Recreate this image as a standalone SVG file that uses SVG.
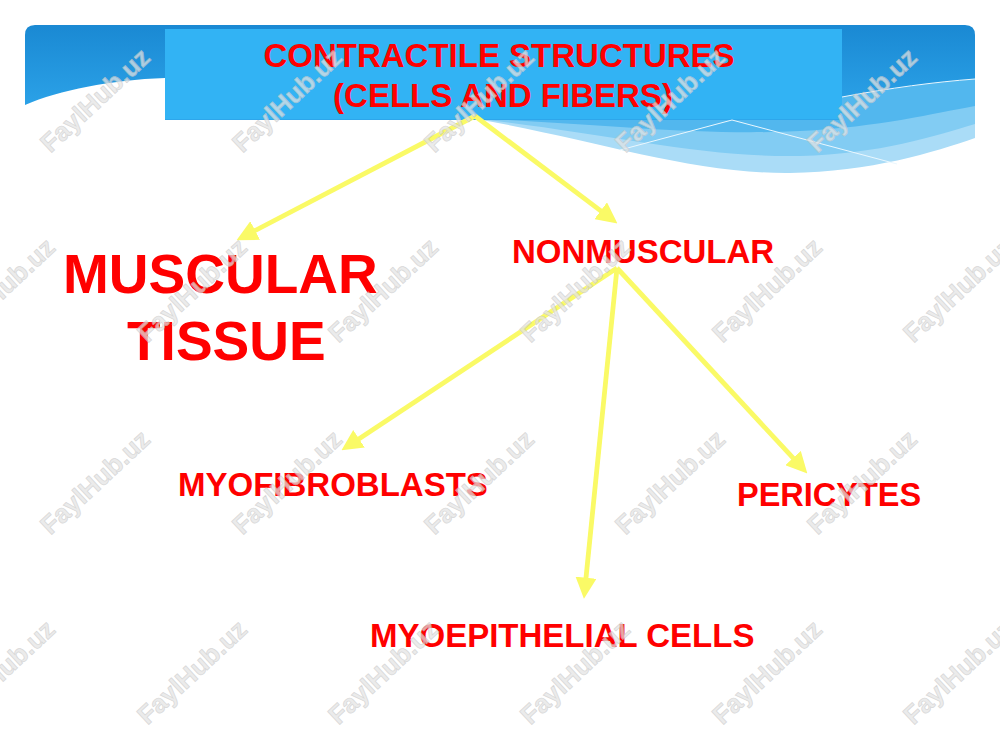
<svg xmlns="http://www.w3.org/2000/svg" width="1000" height="750" viewBox="0 0 1000 750">
<defs>
<linearGradient id="gTop" x1="0" y1="0" x2="0" y2="1">
<stop offset="0" stop-color="#1a89d3"/>
<stop offset="1" stop-color="#2ea6eb"/>
</linearGradient>
<marker id="ah" viewBox="0 0 10 10" markerUnits="userSpaceOnUse" markerWidth="21" markerHeight="21" refX="4" refY="5" orient="auto">
<path d="M0,0 L10,5 L0,10 z" fill="#fafa66"/>
</marker>
<style>
.lbl{font-family:"Liberation Sans",Arial,sans-serif;font-weight:bold;fill:#ff0000;}
.conn{stroke:#fafa66;stroke-width:4.8;fill:none;marker-end:url(#ah);}
.wm{font-family:"Liberation Sans",Arial,sans-serif;font-weight:bold;font-size:26px;fill:#e4e4e4;stroke:#c8c8c8;stroke-width:0.7;opacity:0.72;text-anchor:middle;}
.wl{stroke:#eaf7fe;stroke-width:1;fill:none;}
</style>
</defs>
<rect x="0" y="0" width="1000" height="750" fill="#ffffff"/>
<g id="header-background">
<path d="M470,118 C590,138 690,174 790,173 C870,172 935,152 975,138 L975,70 L470,70 Z" fill="#aadcf7"/>
<path d="M470,118 C600,132 700,158 800,156 C880,154 935,136 975,124 L975,70 L470,70 Z" fill="#82ccf3"/>
<path d="M470,118 C600,124 700,136 800,131 C880,127 935,113 975,106 L975,70 L470,70 Z" fill="#52b7ee"/>
<path d="M25,105 L25,35 Q25,25 35,25 L965,25 Q975,25 975,35 L975,79 C930,83 880,90 842,97 L842,120 L165,120 L165,78 C110,80 60,90 25,105 Z" fill="url(#gTop)"/>
<path class="wl" d="M842,97 C890,88 935,82 975,79"/>
<path class="wl" d="M620,150 L732,120 L897,164"/>
</g>
<g id="title">
<rect x="165" y="29" width="677" height="90" fill="#32b3f4"/>
<text class="lbl" x="499" y="67" font-size="33" text-anchor="middle">CONTRACTILE STRUCTURES</text>
<text class="lbl" x="503" y="107" font-size="33" text-anchor="middle">(CELLS AND FIBERS)</text>
</g>
<g id="connectors">
<line class="conn" x1="475" y1="116" x2="247.7" y2="234.4"/>
<line class="conn" x1="475" y1="116" x2="607.4" y2="215.8"/>
<line class="conn" x1="617" y1="268" x2="352" y2="443.4"/>
<line class="conn" x1="617" y1="268" x2="585.2" y2="586.1"/>
<line class="conn" x1="617" y1="268" x2="798.8" y2="464.2"/>
</g>
<g id="muscular">
<text class="lbl" x="63" y="293" font-size="55">MUSCULAR</text>
<text class="lbl" x="127" y="360" font-size="55">TISSUE</text>
</g>
<g id="nonmuscular">
<text class="lbl" x="512" y="263" font-size="33">NONMUSCULAR</text>
</g>
<g id="myofibroblasts">
<text class="lbl" x="178" y="496" font-size="33">MYOFIBROBLASTS</text>
</g>
<g id="pericytes">
<text class="lbl" x="737" y="506" font-size="32.5">PERICYTES</text>
</g>
<g id="myoepithelial">
<text class="lbl" x="370" y="647" font-size="33">MYOEPITHELIAL CELLS</text>
</g>
<g id="watermarks">
<text class="wm" x="95" y="109" transform="rotate(-43 95 100)">FaylHub.uz</text>
<text class="wm" x="287" y="109" transform="rotate(-43 287 100)">FaylHub.uz</text>
<text class="wm" x="479" y="109" transform="rotate(-43 479 100)">FaylHub.uz</text>
<text class="wm" x="670" y="109" transform="rotate(-43 670 100)">FaylHub.uz</text>
<text class="wm" x="862" y="109" transform="rotate(-43 862 100)">FaylHub.uz</text>
<text class="wm" x="0" y="299" transform="rotate(-43 0 290)">FaylHub.uz</text>
<text class="wm" x="192" y="299" transform="rotate(-43 192 290)">FaylHub.uz</text>
<text class="wm" x="383" y="299" transform="rotate(-43 383 290)">FaylHub.uz</text>
<text class="wm" x="575" y="299" transform="rotate(-43 575 290)">FaylHub.uz</text>
<text class="wm" x="767" y="299" transform="rotate(-43 767 290)">FaylHub.uz</text>
<text class="wm" x="958" y="299" transform="rotate(-43 958 290)">FaylHub.uz</text>
<text class="wm" x="95" y="491" transform="rotate(-43 95 482)">FaylHub.uz</text>
<text class="wm" x="287" y="491" transform="rotate(-43 287 482)">FaylHub.uz</text>
<text class="wm" x="479" y="491" transform="rotate(-43 479 482)">FaylHub.uz</text>
<text class="wm" x="670" y="491" transform="rotate(-43 670 482)">FaylHub.uz</text>
<text class="wm" x="862" y="491" transform="rotate(-43 862 482)">FaylHub.uz</text>
<text class="wm" x="0" y="681" transform="rotate(-43 0 672)">FaylHub.uz</text>
<text class="wm" x="192" y="681" transform="rotate(-43 192 672)">FaylHub.uz</text>
<text class="wm" x="383" y="681" transform="rotate(-43 383 672)">FaylHub.uz</text>
<text class="wm" x="575" y="681" transform="rotate(-43 575 672)">FaylHub.uz</text>
<text class="wm" x="767" y="681" transform="rotate(-43 767 672)">FaylHub.uz</text>
<text class="wm" x="958" y="681" transform="rotate(-43 958 672)">FaylHub.uz</text>
</g>
</svg>
